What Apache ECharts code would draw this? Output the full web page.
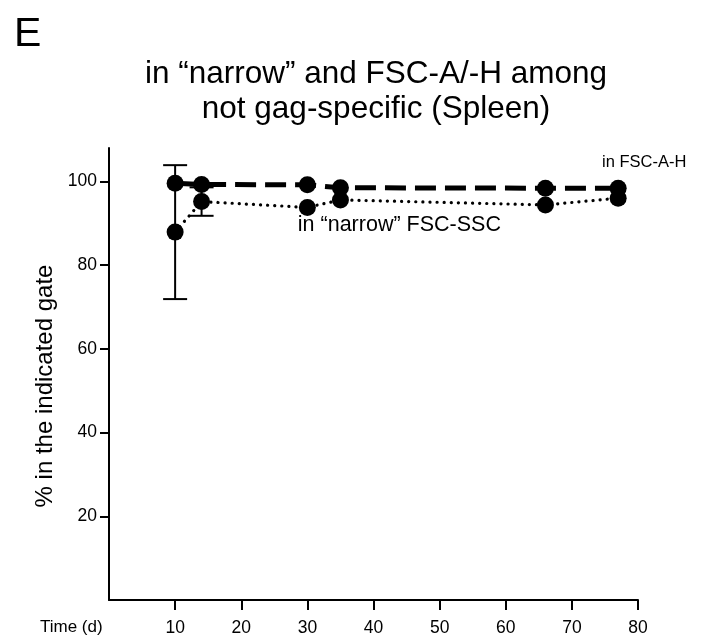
<!DOCTYPE html>
<html>
<head>
<meta charset="utf-8">
<script src="https://cdn.jsdelivr.net/npm/echarts@6/dist/echarts.min.js"></script>
<style>
  html, body { margin: 0; padding: 0; background: #fff; }
  #chart { width: 720px; height: 637px; }
</style>
</head>
<body>
<div id="chart"></div>
<script>
// time points (days)
const days = [10, 14, 30, 35, 66, 77]
// % in FSC-A-H gate (dashed)
const fscAH = [99.6, 99.3, 99.2, 98.5, 98.4, 98.4]
// % in "narrow" FSC-SSC gate (dotted)
const narrow = [87.9, 95.2, 93.8, 95.6, 94.4, 96.0]
// error bar half-widths for the narrow series (0 = none shown)
const narrowErr = [16, 3.4, 0, 0, 0, 0]
const xTicks = [10, 20, 30, 40, 50, 60, 70, 80]
const yTicks = [20, 40, 60, 80, 100]

const font = 'Liberation Sans, Arial, Helvetica, sans-serif'
const chart = echarts.init(document.getElementById('chart'))

const errData = days.map((d, i) => [d, narrow[i] - narrowErr[i], narrow[i] + narrowErr[i]])
  .filter((r, i) => narrowErr[i] > 0)

chart.setOption({
  backgroundColor: '#fff',
  animation: false,
  title: [{
    text: 'E',
    left: 9,
    top: 9,
    textStyle: { fontFamily: font, fontSize: 41, fontWeight: 'normal', color: '#000' }
  }, {
    text: 'in “narrow” and FSC-A/-H among\nnot gag-specific (Spleen)',
    left: 371,
    top: 52,
    textAlign: 'center',
    textStyle: { fontFamily: font, fontSize: 31.5, fontWeight: 'normal', color: '#000', lineHeight: 35 }
  }],
  grid: { left: 109, right: 82, top: 148, bottom: 37 },
  xAxis: {
    type: 'value',
    min: 0,
    max: 80,
    axisLine: { lineStyle: { color: '#000', width: 2 } },
    axisTick: { customValues: xTicks, length: 10, lineStyle: { color: '#000', width: 2 } },
    axisLabel: { customValues: xTicks, color: '#000', fontFamily: font, fontSize: 17.5, margin: 19 },
    splitLine: { show: false }
  },
  yAxis: {
    type: 'value',
    min: 0,
    max: 108,
    name: '% in the indicated gate',
    nameLocation: 'middle',
    nameGap: 43,
    nameTextStyle: { color: '#000', fontFamily: font, fontSize: 24, padding: [0, 24, 0, 0] },
    axisLine: { show: true, lineStyle: { color: '#000', width: 2 } },
    axisTick: { show: true, customValues: yTicks, length: 9, lineStyle: { color: '#000', width: 2 } },
    axisLabel: { customValues: yTicks, color: '#000', fontFamily: font, fontSize: 17.5, margin: 12 },
    splitLine: { show: false }
  },
  graphic: [{
    type: 'text',
    left: 40,
    top: 619,
    style: { text: 'Time (d)', fill: '#000', font: '17px ' + font }
  }],
  series: [{
    name: 'error',
    type: 'custom',
    z: 1,
    data: errData,
    renderItem(params, api) {
      const x = api.value(0)
      const lo = api.coord([x, api.value(1)])
      const hi = api.coord([x, api.value(2)])
      const cap = 12
      const style = { stroke: '#000', lineWidth: 2 }
      return {
        type: 'group',
        children: [
          { type: 'line', shape: { x1: lo[0], y1: lo[1], x2: hi[0], y2: hi[1] }, style },
          { type: 'line', shape: { x1: lo[0] - cap, y1: lo[1], x2: lo[0] + cap, y2: lo[1] }, style },
          { type: 'line', shape: { x1: hi[0] - cap, y1: hi[1], x2: hi[0] + cap, y2: hi[1] }, style }
        ]
      }
    }
  }, {
    name: 'in "narrow" FSC-SSC',
    type: 'line',
    z: 2,
    data: days.map((d, i) => {
      const item = { value: [d, narrow[i]] }
      if (i === 2) {
        item.label = {
          show: true,
          position: 'bottom',
          offset: [92, -7],
          formatter: 'in “narrow” FSC-SSC',
          color: '#000',
          fontFamily: font,
          fontSize: 21.5
        }
      }
      return item
    }),
    symbol: 'circle',
    symbolSize: 17,
    itemStyle: { color: '#000' },
    lineStyle: { color: '#000', width: 3.2, type: [0.1, 7], cap: 'round' }
  }, {
    name: 'in FSC-A-H',
    type: 'line',
    z: 3,
    data: days.map((d, i) => {
      const item = { value: [d, fscAH[i]] }
      if (i === days.length - 1) {
        item.label = {
          show: true,
          position: 'top',
          offset: [26, -4],
          formatter: 'in FSC-A-H',
          color: '#000',
          fontFamily: font,
          fontSize: 16.5
        }
      }
      return item
    }),
    symbol: 'circle',
    symbolSize: 17,
    itemStyle: { color: '#000' },
    lineStyle: { color: '#000', width: 5, type: [21, 9] }
  }]
})
</script>
</body>
</html>
